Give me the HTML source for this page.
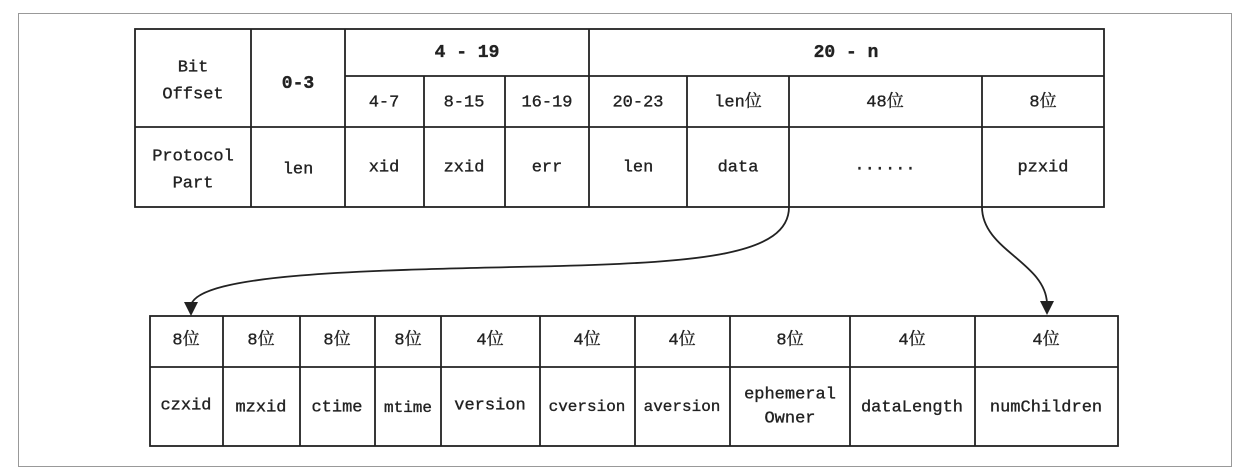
<!DOCTYPE html>
<html><head><meta charset="utf-8"><style>
html,body{margin:0;padding:0;background:#fff;}
svg{display:block;}
text{font-family:"Liberation Mono","Noto Serif CJK SC",monospace;fill:#222;font-size:17px;text-anchor:middle;dominant-baseline:central;stroke:#222;stroke-width:0.35;}
.b{font-weight:bold;font-size:18px;}
</style></head><body>
<svg width="1248" height="474" viewBox="0 0 1248 474" xmlns="http://www.w3.org/2000/svg">
<rect x="18.5" y="13.5" width="1213" height="453" fill="none" stroke="#999" stroke-width="1"/>
<g stroke="#222" stroke-width="1.8" fill="none">
<rect x="135" y="29" width="969" height="178"/>
<line x1="135" y1="127" x2="1104" y2="127"/>
<line x1="345" y1="76" x2="1104" y2="76"/>
<line x1="251" y1="29" x2="251" y2="207"/>
<line x1="345" y1="29" x2="345" y2="207"/>
<line x1="589" y1="29" x2="589" y2="207"/>
<line x1="424" y1="76" x2="424" y2="207"/>
<line x1="505" y1="76" x2="505" y2="207"/>
<line x1="687" y1="76" x2="687" y2="207"/>
<line x1="789" y1="76" x2="789" y2="207"/>
<line x1="982" y1="76" x2="982" y2="207"/>

<rect x="150" y="316" width="968" height="130"/>
<line x1="150" y1="367" x2="1118" y2="367"/>
<line x1="223" y1="316" x2="223" y2="446"/>
<line x1="300" y1="316" x2="300" y2="446"/>
<line x1="375" y1="316" x2="375" y2="446"/>
<line x1="441" y1="316" x2="441" y2="446"/>
<line x1="540" y1="316" x2="540" y2="446"/>
<line x1="635" y1="316" x2="635" y2="446"/>
<line x1="730" y1="316" x2="730" y2="446"/>
<line x1="850" y1="316" x2="850" y2="446"/>
<line x1="975" y1="316" x2="975" y2="446"/>

<path d="M789 207 C789 255,700 262,560 266 C380 270,200 272,191 305"/>
<path d="M982 207 C982 250,1045 262,1047 303"/>
</g>
<polygon points="184,302 198,302 191,316" fill="#222"/>
<polygon points="1040,301 1054,301 1047,315" fill="#222"/>

<text x="193" y="68">Bit</text>
<text x="193" y="95">Offset</text>
<text x="298" y="84" class="b">0-3</text>
<text x="467" y="53" class="b">4 - 19</text>
<text x="846" y="53" class="b">20 - n</text>
<text x="384" y="103">4-7</text>
<text x="464" y="103">8-15</text>
<text x="547" y="103">16-19</text>
<text x="638" y="103">20-23</text>
<text x="738" y="103">len位</text>
<text x="885" y="103">48位</text>
<text x="1043" y="103">8位</text>
<text x="193" y="157">Protocol</text>
<text x="193" y="184">Part</text>
<text x="298" y="170">len</text>
<text x="384" y="168">xid</text>
<text x="464" y="168">zxid</text>
<text x="547" y="168">err</text>
<text x="638" y="168">len</text>
<text x="738" y="168">data</text>
<text x="885" y="166">......</text>
<text x="1043" y="168">pzxid</text>

<text x="186" y="341">8位</text>
<text x="261" y="341">8位</text>
<text x="337" y="341">8位</text>
<text x="408" y="341">8位</text>
<text x="490" y="341">4位</text>
<text x="587" y="341">4位</text>
<text x="682" y="341">4位</text>
<text x="790" y="341">8位</text>
<text x="912" y="341">4位</text>
<text x="1046" y="341">4位</text>
<text x="186" y="406">czxid</text>
<text x="261" y="408">mzxid</text>
<text x="337" y="408">ctime</text>
<text x="408" y="408" style="font-size:16px">mtime</text>
<text x="490" y="406">version</text>
<text x="587" y="407" style="font-size:16px">cversion</text>
<text x="682" y="407" style="font-size:16px">aversion</text>
<text x="790" y="395">ephemeral</text>
<text x="790" y="419">Owner</text>
<text x="912" y="408">dataLength</text>
<text x="1046" y="408">numChildren</text>
</svg>
</body></html>
